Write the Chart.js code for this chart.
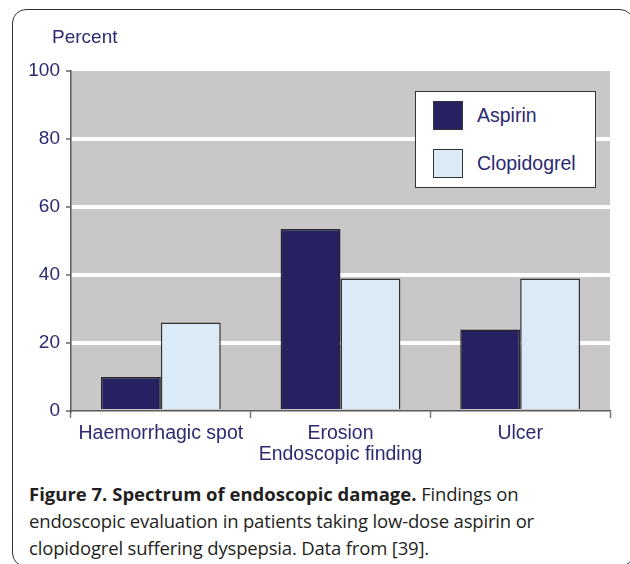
<!DOCTYPE html>
<html>
<head>
<meta charset="utf-8">
<script src="https://cdn.jsdelivr.net/npm/chart.js@4.4.1/dist/chart.umd.min.js"></script>
<style>
    html, body { margin: 0; padding: 0; background: #fff; overflow: hidden; }
    #page { position: relative; width: 630px; height: 564px; overflow: hidden; }
    #frame {
        position: absolute; left: 12px; top: 9px; width: 620px; height: 556px;
        border: 1.5px solid #333; border-radius: 14px;
    }
    #chartWrap { position: absolute; left: 0; top: 0; width: 630px; height: 470px; }
    #yTitle {
        position: absolute; left: 52px; top: 27px;
        font: 19px "Liberation Sans", Arial, sans-serif; line-height: 19px; color: #2b2a72;
    }
    #legend {
        position: absolute; left: 415px; top: 91px; width: 179px; height: 95px;
        background: #fff; border: 1.5px solid #333;
    }
    .legend-item { position: absolute; left: 17px; height: 30px; }
    .legend-item .swatch {
        position: absolute; left: 0; top: 0; width: 28px; height: 27px; border: 1.5px solid #333;
    }
    .legend-item .label {
        position: absolute; left: 44px; top: 4px; white-space: nowrap;
        font: 19.5px "Liberation Sans", Arial, sans-serif; line-height: 20px; color: #2b2a72;
    }
    #caption {
        position: absolute; left: 29px; top: 480px; width: 600px; white-space: nowrap;
        font: 18.5px "Open Sans", sans-serif; line-height: 27px; color: #231f20;
        letter-spacing: -0.17px;
    }
    #caption b { font-weight: 700; letter-spacing: 0; }
</style>
</head>
<body>
<div id="page">
    <div id="frame"></div>
    <div id="chartWrap"><canvas id="damageChart" width="630" height="470"></canvas></div>
    <div id="yTitle">Percent</div>
    <div id="legend"></div>
    <div id="caption"><b>Figure 7. Spectrum of endoscopic damage.</b> Findings on<br>endoscopic evaluation in patients taking low-dose aspirin or<br>clopidogrel suffering dyspepsia. Data from [39].</div>
</div>
<script>
// Endoscopic findings, percent of patients
const categories = ['Haemorrhagic spot', 'Erosion', 'Ulcer'];
const aspirinValues = [10, 53.5, 24];
const clopidogrelValues = [26, 39, 39];
const yTicks = [0, 20, 40, 60, 80, 100];

const TEXT_COLOR = '#2b2a72';
const AXIS_COLOR = '#5a5a5a';

// gray plot area behind the bars
const plotBackground = {
    id: 'plotBackground',
    beforeDraw(chart) {
        const { ctx, chartArea } = chart;
        ctx.save();
        ctx.fillStyle = '#c9c7c7';
        ctx.fillRect(chartArea.left, chartArea.top, chartArea.right - chartArea.left, chartArea.bottom - chartArea.top);
        ctx.restore();
    }
};

const chart = new Chart(document.getElementById('damageChart'), {
    type: 'bar',
    data: {
        labels: categories,
        datasets: [{
            label: 'Aspirin',
            data: aspirinValues,
            backgroundColor: '#262262',
            borderColor: '#262626',
            borderWidth: 1.5
        }, {
            label: 'Clopidogrel',
            data: clopidogrelValues,
            backgroundColor: '#dbeaf7',
            borderColor: '#333333',
            borderWidth: 1.5
        }]
    },
    options: {
        responsive: false,
        animation: false,
        events: [],
        layout: { padding: { left: 0, right: 20, top: 71, bottom: 0 } },
        datasets: { bar: { categoryPercentage: 0.667, barPercentage: 1.0 } },
        plugins: {
            legend: { display: false },
            tooltip: { enabled: false }
        },
        scales: {
            x: {
                grid: {
                    drawOnChartArea: false,
                    drawTicks: true,
                    tickLength: 7,
                    tickColor: '#777',
                    tickWidth: 1.5
                },
                border: { display: true, color: AXIS_COLOR, width: 1.5 },
                ticks: {
                    color: TEXT_COLOR,
                    font: { family: '"Liberation Sans", Arial, sans-serif', size: 19.5 },
                    padding: 4,
                    autoSkip: false,
                    maxRotation: 0
                },
                title: {
                    display: true,
                    text: 'Endoscopic finding',
                    color: TEXT_COLOR,
                    font: { family: '"Liberation Sans", Arial, sans-serif', size: 19.5 },
                    padding: { top: 0, bottom: 4 }
                },
                afterFit(scale) { scale.height = 59; }
            },
            y: {
                min: 0,
                max: 100,
                afterBuildTicks(scale) { scale.ticks = yTicks.map(v => ({ value: v })); },
                grid: {
                    color: ctx => (ctx.tick && ctx.tick.value > 0 && ctx.tick.value < 100) ? '#ffffff' : 'rgba(0,0,0,0)',
                    lineWidth: 4,
                    tickColor: '#666',
                    tickWidth: 1.5,
                    tickLength: 5
                },
                border: { display: true, color: AXIS_COLOR, width: 1.5 },
                ticks: {
                    color: TEXT_COLOR,
                    font: { family: '"Liberation Sans", Arial, sans-serif', size: 19 },
                    padding: 6
                },
                afterFit(scale) { scale.width = 71; }
            }
        }
    },
    plugins: [plotBackground]
});

// legend box built from the datasets
const legend = document.getElementById('legend');
chart.data.datasets.forEach((ds, i) => {
    const item = document.createElement('div');
    item.className = 'legend-item';
    item.style.top = (9 + i * 48) + 'px';
    item.innerHTML = '<div class="swatch" style="background:' + ds.backgroundColor + '"></div>' +
        '<div class="label">' + ds.label + '</div>';
    legend.appendChild(item);
});
</script>
</body>
</html>
